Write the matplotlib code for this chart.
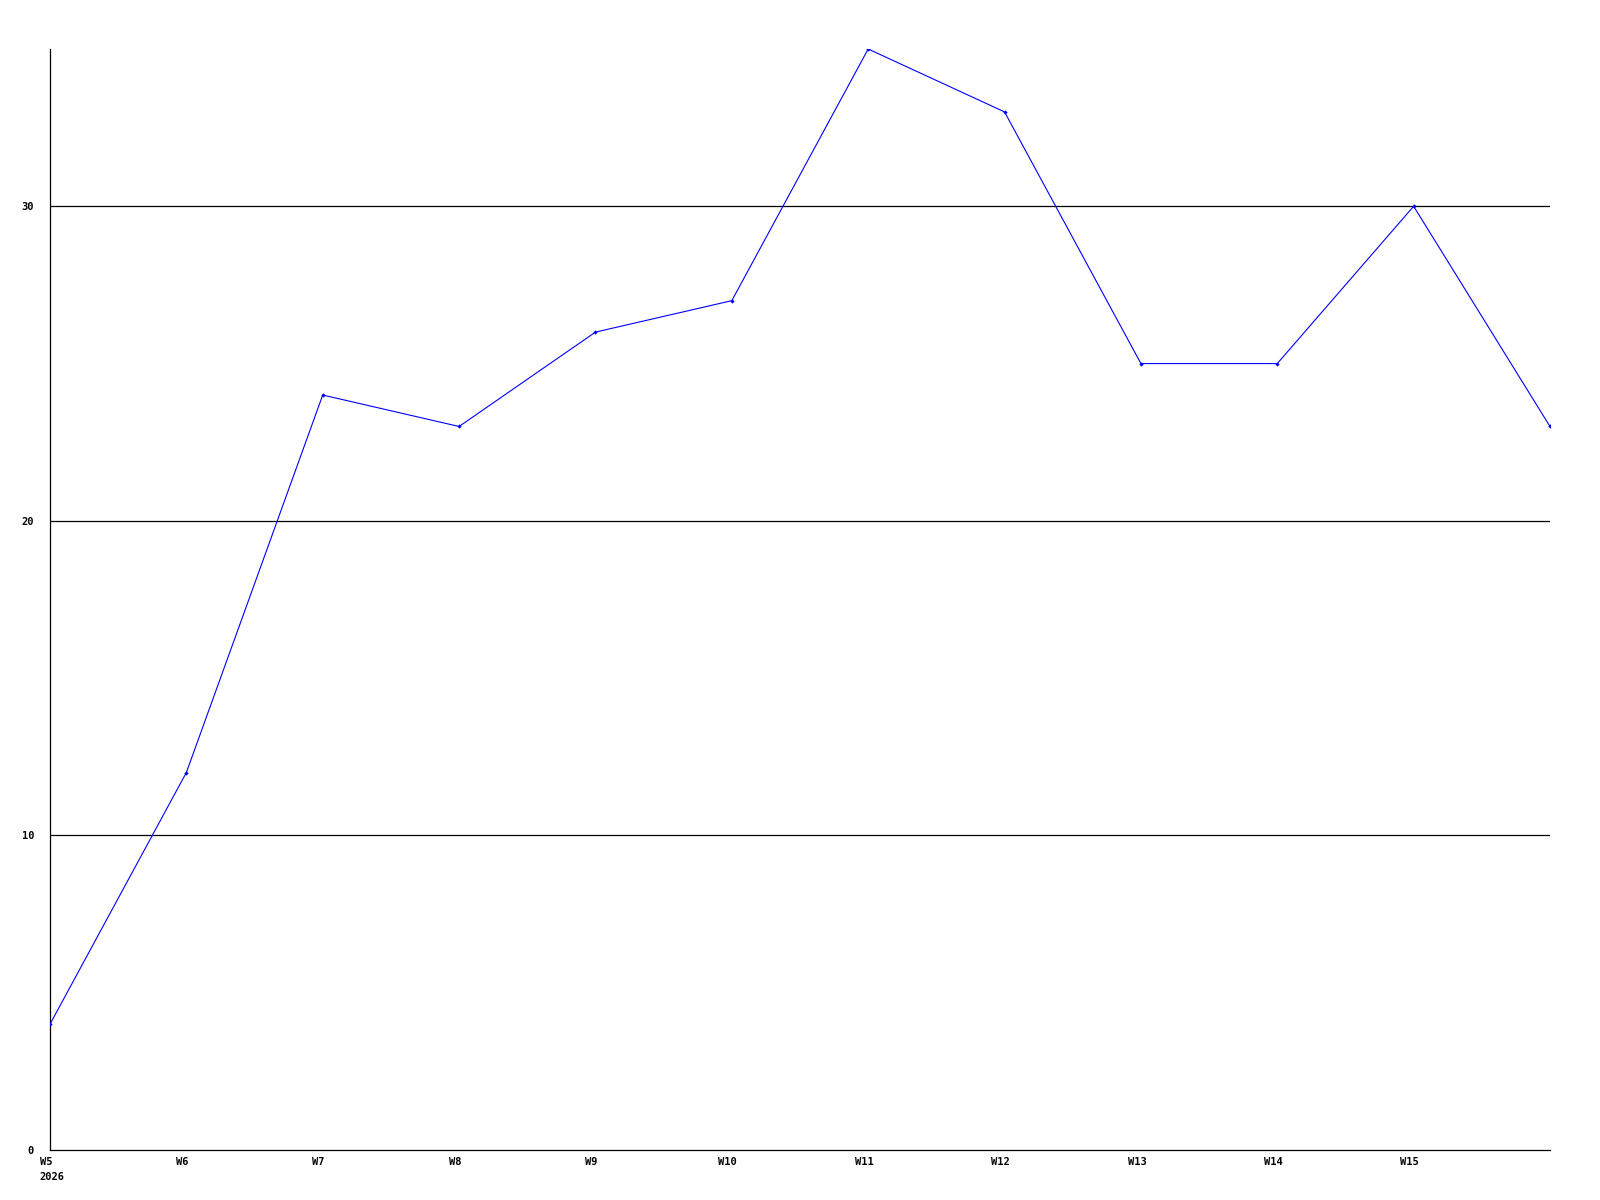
import matplotlib
matplotlib.use("Agg")
from matplotlib import pyplot as plt
from matplotlib.transforms import ScaledTranslation

weeks = ["W5", "W6", "W7", "W8", "W9", "W10", "W11", "W12", "W13", "W14", "W15"]
values = [4, 12, 24, 23, 26, 27, 35, 33, 25, 25, 30, 23]
year_label = "2026"
y_ticks = [0, 10, 20, 30]

fig = plt.figure(figsize=(16, 12), dpi=100)
ax = fig.add_axes([50/1600, 1 - 1150/1200, 1500/1600, (1150 - 49)/1200])

x = list(range(len(values)))
ax.plot(x, values, color="#0000ff", linewidth=0.8, marker="D", markersize=2.2,
        markerfacecolor="#0000ff", markeredgewidth=0, zorder=3)

ax.set_xlim(0, len(values) - 1)
ax.set_ylim(0, 35)

for v in y_ticks[1:]:
    ax.axhline(v, color="black", linewidth=0.9, zorder=1)

for s in ["top", "right"]:
    ax.spines[s].set_visible(False)
for s in ["left", "bottom"]:
    ax.spines[s].set_linewidth(0.9)

font = dict(family="DejaVu Sans Mono", fontweight="bold", fontsize=7.5)
ax.set_yticks(y_ticks)
ax.set_yticklabels([str(v) for v in y_ticks], **font)
ax.tick_params(axis="y", length=0, pad=11.5)
ax.set_xticks(range(len(weeks)))
ax.set_xticklabels(weeks, **font)
ax.tick_params(axis="x", length=0, pad=5)
# labels sit a few pixels left of their tick
shift = ScaledTranslation(-4/100, 0, fig.dpi_scale_trans)
for lbl in ax.get_xticklabels():
    lbl.set_transform(lbl.get_transform() + shift)

fig.text(39/1600, 1 - 1177/1200, year_label, ha="left", va="center", **font)

fig.savefig("out.png", dpi=100, facecolor="white")
